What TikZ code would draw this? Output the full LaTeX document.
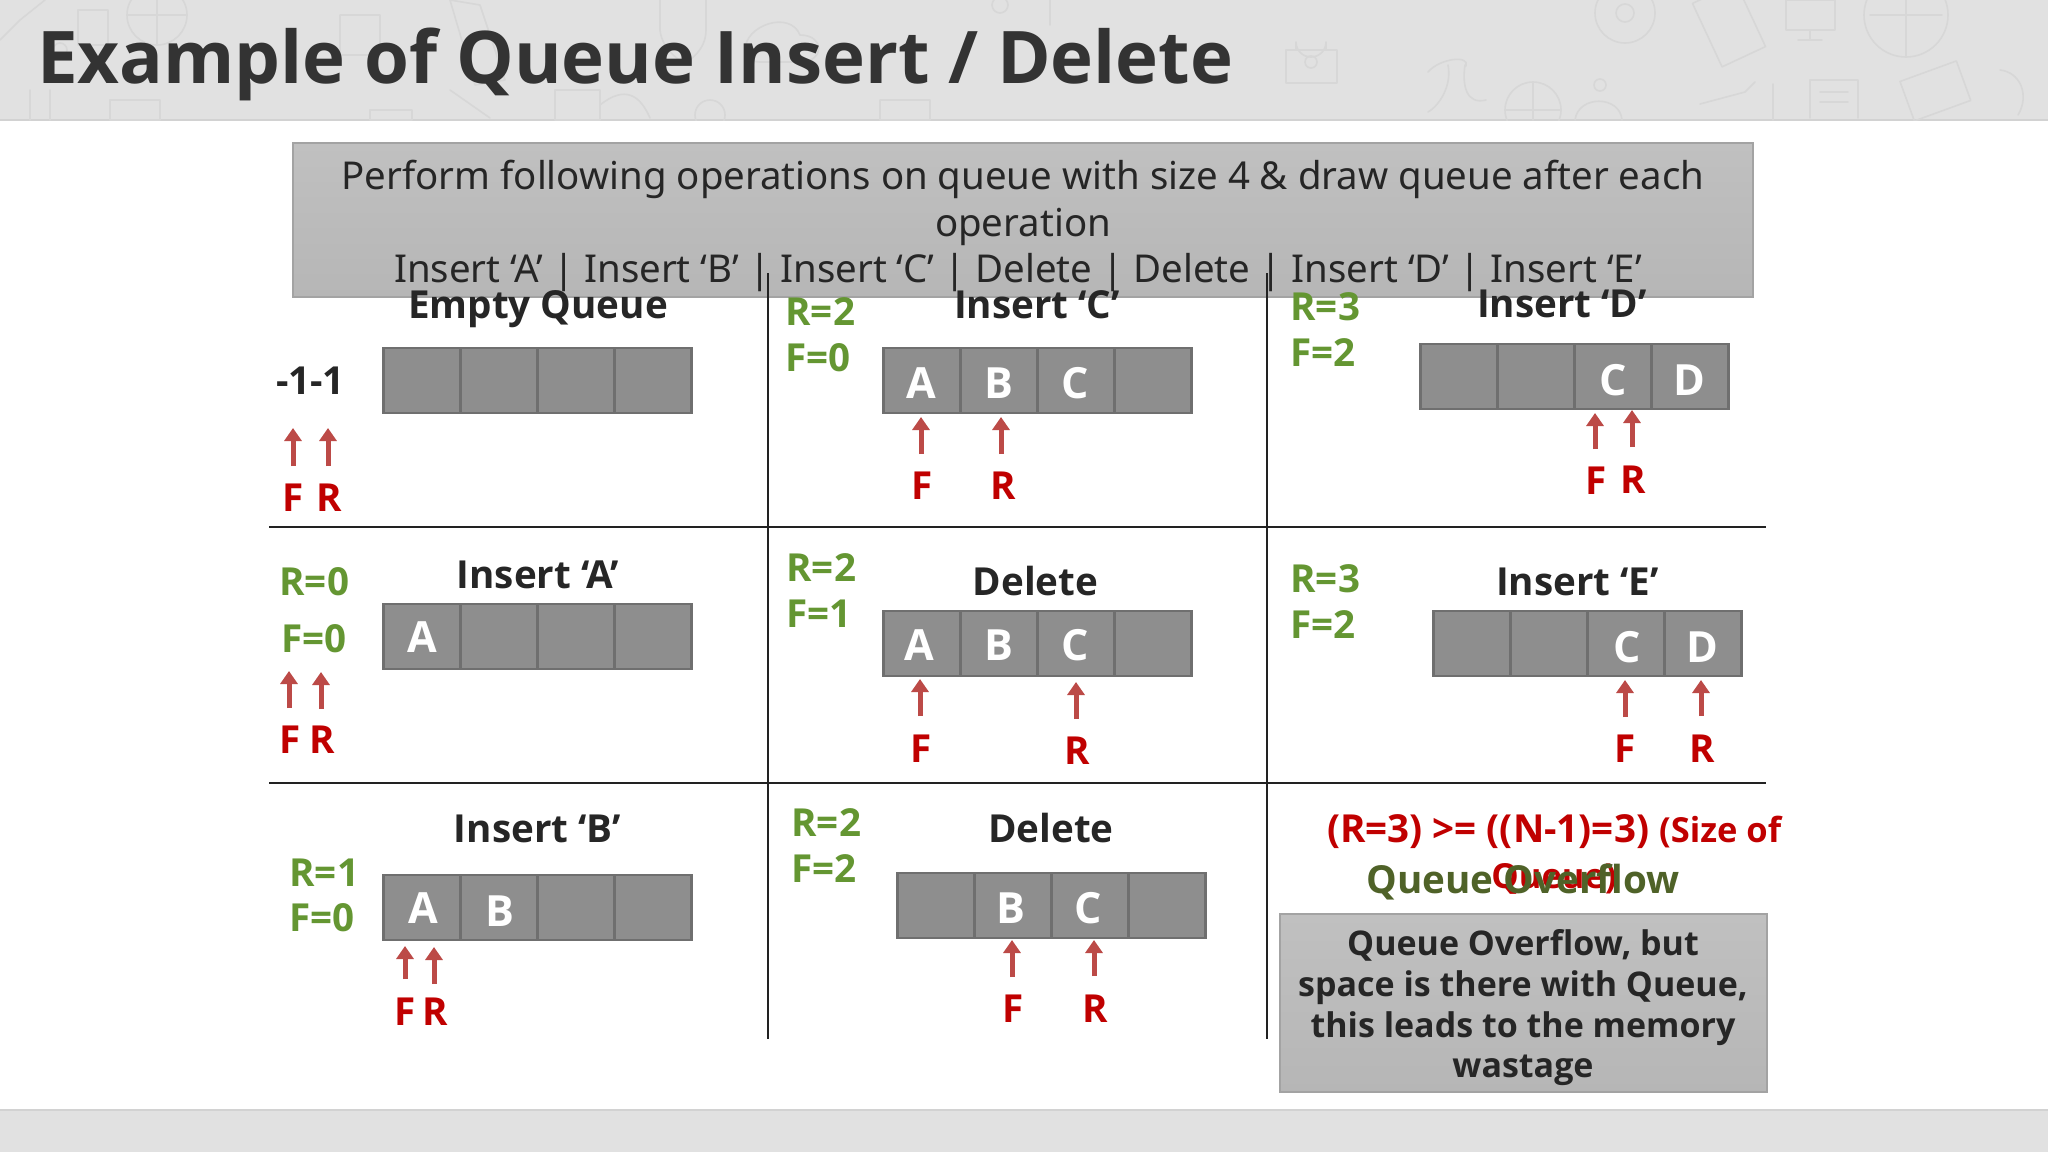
\documentclass[tikz,border=0pt]{standalone}
\usepackage{fontspec}
\setmainfont{Noto Sans}
\newfontfamily\opensans{Open Sans}
\newcommand{\hb}{\opensans\bfseries}
\usetikzlibrary{arrows.meta}
\definecolor{bandgrey}{HTML}{E1E1E1}
\definecolor{bandedge}{HTML}{D2D2D2}
\definecolor{doodle}{HTML}{D7D7D7}
\definecolor{titleink}{HTML}{333333}
\definecolor{ink}{HTML}{262626}
\definecolor{cellfill}{HTML}{8E8E8E}
\definecolor{celledge}{HTML}{6F6F6F}
\definecolor{boxedge}{HTML}{A3A3A3}
\definecolor{ruleink}{HTML}{222222}
\definecolor{stategreen}{HTML}{649632}
\definecolor{overgreen}{HTML}{4F6228}
\definecolor{labelred}{HTML}{C00000}
\definecolor{arrowred}{HTML}{BC4A47}
\definecolor{BFtop}{HTML}{C0C0C0}
\definecolor{BFbot}{HTML}{B6B6B6}
\tikzset{
  txt/.style={inner sep=0pt,outer sep=0pt,anchor=base},
  title/.style={txt,anchor=base west,text=titleink,font=\fontsize{72.6}{80}\selectfont\hb},
  toptext/.style={txt,text=ink,font=\fontsize{38.4}{44}\selectfont},
  heading/.style={txt,text=ink,font=\fontsize{38.6}{44}\selectfont\hb},
  state/.style={txt,anchor=base west,xshift=-2.5pt,text=stategreen,font=\fontsize{38.6}{44}\selectfont\hb},
  ptrlabel/.style={txt,text=labelred,font=\fontsize{38.6}{44}\selectfont\hb},
  cellchar/.style={txt,text=white,font=\fontsize{43}{44}\selectfont\hb},
  cell/.style={draw=celledge,fill=cellfill,line width=2.4pt,minimum width=77pt,minimum height=65pt,inner sep=0pt,outer sep=0pt,anchor=north west},
  ptr/.style={draw=arrowred,line width=5pt,-{Triangle[width=17pt,length=13pt]}},
  rulerline/.style={draw=ruleink,line width=2.4pt},
  notebox/.style={draw=boxedge,line width=1.6pt,top color=BFtop,bottom color=BFbot,inner sep=0pt,outer sep=0pt,anchor=north west},
  doodleline/.style={draw=doodle,line width=1.6pt,line join=round,line cap=round},
  boxtext/.style={txt,text=ink,font=\fontsize{34}{40}\selectfont\hb}
}
\newcommand{\qrow}[3]{\foreach \i in {0,...,3}{\node[cell] (#1-\i) at ({#2+0.5+\i*77},#3) {};}}
\newcommand{\parrow}[4]{\coordinate (#1-t) at (#2,#3);\coordinate (#1-b) at (#2,#4);\draw[ptr] (#1-b) -- (#1-t);}
\begin{document}
\begin{tikzpicture}[x=1pt,y=-1pt]
\useasboundingbox (0,0) rectangle (2048,1152);
\fill[white] (0,0) rectangle (2048,1152);
% bands
\fill[bandgrey] (0,0) rectangle (2048,120);
\draw[bandedge,line width=2pt] (0,120) -- (2048,120);
\fill[bandgrey] (0,1110) rectangle (2048,1152);
\draw[bandedge,line width=2pt] (0,1110) -- (2048,1110);
% faint doodles of the header
\begin{scope}
\clip (0,0) rectangle (2048,120);
\draw[doodleline] (1286,50) rectangle (1337,83);
\draw[doodleline] (1296,50) -- (1296,42) arc[start angle=180,end angle=0,radius=15] -- (1326,50);
\draw[doodleline] (1311,62) circle[radius=6];
\draw[doodleline] (1625,13) circle[radius=30];
\draw[doodleline] (1625,13) circle[radius=9];
\draw[doodleline] (1906,15) circle[radius=42];
\draw[doodleline] (1870,15) -- (1942,15) (1906,-27) -- (1906,57);
\draw[doodleline] (1533,110) circle[radius=28];
\draw[doodleline] (1505,110) -- (1561,110) (1533,82) -- (1533,120);
\draw[doodleline,rotate around={25:(1729,25)}] (1705,-10) rectangle (1753,60);
\draw[doodleline] (1786,0) rectangle (1835,30) (1810,30) -- (1810,40) (1798,40) -- (1822,40);
\draw[doodleline] (1428,72) .. controls (1440,58) and (1470,55) .. (1466,66) (1448,65) .. controls (1452,85) and (1440,105) .. (1428,112) (1465,65) .. controls (1462,85) and (1466,105) .. (1486,100);
\draw[doodleline] (1600,85) circle[radius=6] (1575,120) .. controls (1578,95) and (1620,95) .. (1622,120);
\draw[doodleline] (1810,118) -- (1810,80) -- (1858,80) -- (1858,118) (1820,92) -- (1848,92) (1820,102) -- (1848,102);
\draw[doodleline] (1700,104) -- (1745,92) -- (1755,82) (1773,84) -- (1773,120);
\draw[doodleline,rotate around={20:(1935,90)}] (1905,70) rectangle (1965,112);
\draw[doodleline] (2000,70) .. controls (2020,72) and (2030,95) .. (2018,115);
\draw[doodleline] (157,15) circle[radius=30] (127,15) -- (187,15) (157,-15) -- (157,45);
\draw[doodleline] (78,10) rectangle (108,45);
\draw[doodleline] (60,50) circle[radius=7];
\draw[doodleline] (20,20) -- (45,0) (20,20) -- (0,40);
\draw[doodleline] (745,50) .. controls (745,25) and (790,10) .. (800,35) .. controls (825,35) and (825,62) .. (800,62) -- (760,62) .. controls (745,62) and (745,50) .. (745,50);
\draw[doodleline] (660,0) -- (660,30) .. controls (662,50) and (680,60) .. (684,64) .. controls (690,60) and (706,50) .. (706,30) -- (706,0);
\draw[doodleline] (450,0) -- (480,5) -- (505,80) -- (475,85) -- cycle;
\draw[doodleline] (110,100) rectangle (160,120) (30,90) -- (30,120) (50,90) -- (50,120);
\draw[doodleline] (370,110) rectangle (412,120) (555,90) rectangle (600,120);
\draw[doodleline] (450,90) -- (490,118) (600,105) .. controls (625,85) and (640,95) .. (650,118);
\draw[doodleline] (880,100) rectangle (930,120) (710,115) circle[radius=15];
\draw[doodleline] (340,15) rectangle (380,55) (1050,0) -- (1050,25) (1000,5) circle[radius=8];
\end{scope}
% title
\node[title] (pagetitle) at (37,83) {Example of Queue Insert / Delete};
% task box
\node[notebox,minimum width=1460pt,minimum height=154pt] (taskbox) at (293,143) {};
\node[toptext] (task1) at (1023,189) {Perform following operations on queue with size 4 \& draw queue after each};
\node[toptext] (task2) at (1023,236) {operation};
\node[toptext] (task3) at (1018,282) {Insert ‘A’ | Insert ‘B’ | Insert ‘C’ | Delete | Delete | Insert ‘D’ | Insert ‘E’};
% grid rules
\coordinate (vl-t) at (768,273); \coordinate (vl-b) at (768,1039);
\coordinate (vr-t) at (1267,273); \coordinate (vr-b) at (1267,1039);
\coordinate (h1-l) at (269,527); \coordinate (h1-r) at (1766,527);
\coordinate (h2-l) at (269,783); \coordinate (h2-r) at (1766,783);
\draw[rulerline] (vl-t) -- (vl-b);
\draw[rulerline] (vr-t) -- (vr-b);
\draw[rulerline] (h1-l) -- (h1-r);
\draw[rulerline] (h2-l) -- (h2-r);
% Empty queue
\node[heading] (hEmpty) at (538,318) {Empty Queue};
\node[heading,anchor=base west] (minus) at (276,394) {-1-1};
\qrow{qe}{383}{348}
\parrow{qeF}{293}{428}{466}
\parrow{qeR}{328}{428}{466}
\node[ptrlabel] (qeFl) at (293,511) {F};
\node[ptrlabel] (qeRl) at (329,511) {R};
% Insert A
\node[heading] (hA) at (538,588) {Insert ‘A’};
\node[state] (aR) at (282,595) {R=0};
\node[state] (aFs) at (284,652) {F=0};
\qrow{qa}{383}{604}
\node[cellchar] (qaA) at (422,652) {A};
\parrow{qaF}{289}{671}{708}
\parrow{qaR}{321}{672}{709}
\node[ptrlabel] (qaFl) at (290,753) {F};
\node[ptrlabel] (qaRl) at (322,753) {R};
% Insert B
\node[heading] (hB) at (537.5,842) {Insert ‘B’};
\node[state] (bR) at (292,886) {R=1};
\node[state] (bFs) at (292,931) {F=0};
\qrow{qb}{383}{875}
\node[cellchar] (qbA) at (423,923) {A};
\node[cellchar] (qbB) at (500,926) {B};
\parrow{qbF}{405}{946}{979}
\parrow{qbR}{434}{947}{984}
\node[ptrlabel] (qbFl) at (405,1025) {F};
\node[ptrlabel] (qbRl) at (435,1025) {R};
% Insert C
\node[heading] (hC) at (1037,318) {Insert ‘C’};
\node[state] (cR) at (788,325) {R=2};
\node[state] (cFs) at (788,371) {F=0};
\qrow{qc}{883}{348}
\node[cellchar] (qcA) at (921,398) {A};
\node[cellchar] (qcB) at (999,398) {B};
\node[cellchar] (qcC) at (1075,398) {C};
\parrow{qcF}{921}{417}{454}
\parrow{qcR}{1001}{417}{454}
\node[ptrlabel] (qcFl) at (922,499) {F};
\node[ptrlabel] (qcRl) at (1003,499) {R};
% Delete 1
\node[heading] (hD1) at (1035.5,595) {Delete};
\node[state] (d1R) at (789,581) {R=2};
\node[state] (d1Fs) at (789,627) {F=1};
\qrow{qd}{883}{611}
\node[cellchar] (qdA) at (919,660) {A};
\node[cellchar] (qdB) at (999,660) {B};
\node[cellchar] (qdC) at (1075,660) {C};
\parrow{qdF}{920}{679}{716}
\parrow{qdR}{1076}{682}{719}
\node[ptrlabel] (qdFl) at (921,762) {F};
\node[ptrlabel] (qdRl) at (1077,764) {R};
% Delete 2
\node[heading] (hD2) at (1051,842) {Delete};
\node[state] (d2R) at (794,836) {R=2};
\node[state] (d2Fs) at (794,882) {F=2};
\qrow{qf}{897}{873}
\node[cellchar] (qfB) at (1011,923) {B};
\node[cellchar] (qfC) at (1088,923) {C};
\parrow{qfF}{1012}{940}{977}
\parrow{qfR}{1094}{940}{976}
\node[ptrlabel] (qfFl) at (1013,1022) {F};
\node[ptrlabel] (qfRl) at (1095,1022) {R};
% Insert D
\node[heading] (hDD) at (1562,317) {Insert ‘D’};
\node[state] (eR) at (1293,320) {R=3};
\node[state] (eFs) at (1293,366) {F=2};
\qrow{qg}{1420}{344}
\node[cellchar] (qgC) at (1613,395) {C};
\node[cellchar] (qgD) at (1689,395) {D};
\parrow{qgF}{1595}{413}{449}
\parrow{qgR}{1632}{410}{447}
\node[ptrlabel] (qgFl) at (1596,494) {F};
\node[ptrlabel] (qgRl) at (1633,493) {R};
% Insert E
\node[heading] (hE) at (1577.5,595) {Insert ‘E’};
\node[state] (fR) at (1293,592) {R=3};
\node[state] (fFs) at (1293,638) {F=2};
\qrow{qh}{1433}{611}
\node[cellchar] (qhC) at (1627,662) {C};
\node[cellchar] (qhD) at (1702,662) {D};
\parrow{qhF}{1625}{680}{717}
\parrow{qhR}{1701}{680}{716}
\node[ptrlabel] (qhFl) at (1625,762) {F};
\node[ptrlabel] (qhRl) at (1702,762) {R};
% Overflow
\node[ptrlabel,anchor=base west] (cond) at (1327,842) {(R=3) >= ((N-1)=3) {\fontsize{34.5}{40}\selectfont(Size of}};
\node[ptrlabel,font=\fontsize{34.5}{40}\selectfont\hb] (cond2) at (1554,888) {Queue)};
\node[txt,text=overgreen,font=\fontsize{38.6}{44}\selectfont\hb] (over) at (1523,893) {Queue Overflow};
\node[notebox,minimum width=487pt,minimum height=178pt] (wastebox) at (1280,914) {};
\node[boxtext] (w1) at (1523,955) {Queue Overflow, but};
\node[boxtext] (w2) at (1523,996) {space is there with Queue,};
\node[boxtext] (w3) at (1523,1037) {this leads to the memory};
\node[boxtext] (w4) at (1523,1077) {wastage};
\end{tikzpicture}
\end{document}
